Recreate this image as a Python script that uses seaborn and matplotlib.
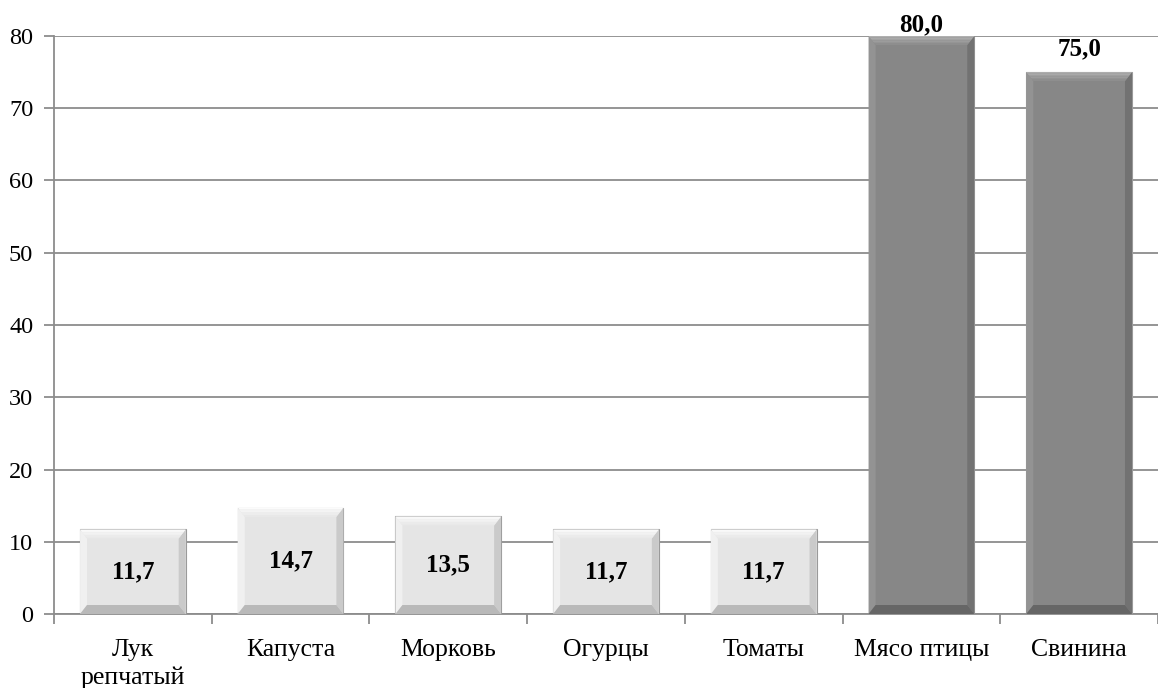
import matplotlib
matplotlib.use("Agg")
import matplotlib.pyplot as plt
from matplotlib.patches import Polygon
from matplotlib.ticker import FixedLocator
import seaborn as sns
import numpy as np

# Data
categories = ["Лук\nрепчатый", "Капуста", "Морковь", "Огурцы", "Томаты", "Мясо птицы", "Свинина"]
values = [11.7, 14.7, 13.5, 11.7, 11.7, 80.0, 75.0]
value_labels = ["11,7", "14,7", "13,5", "11,7", "11,7", "80,0", "75,0"]
is_meat = [False, False, False, False, False, True, True]

LIGHT = "#e5e5e5"
DARK = "#878787"
GRID = "#8c8c8c"

sns.set_theme(style="white")
plt.rcParams["font.family"] = ["Liberation Serif", "DejaVu Serif"]

fig = plt.figure(figsize=(11.58, 6.88), dpi=100)
ax = fig.add_axes([54 / 1158, (688 - 614) / 688, 1 - 54 / 1158, (614 - 36) / 688])

palette = [DARK if m else LIGHT for m in is_meat]
sns.barplot(x=list(range(len(categories))), y=values, hue=list(range(len(categories))),
            palette=palette, legend=False, width=0.67, ax=ax, zorder=3,
            edgecolor="#9a9a9a", linewidth=0.8)

ax.set_xlim(-0.5, len(categories) - 0.5)
ax.set_ylim(0, 80)
ax.set_yticks(np.arange(0, 81, 10))
ax.yaxis.grid(True, color=GRID, linewidth=1.3, zorder=0)
ax.set_axisbelow(True)

for side in ["top", "right"]:
    ax.spines[side].set_visible(False)
for side in ["left", "bottom"]:
    ax.spines[side].set_color(GRID)
    ax.spines[side].set_linewidth(1.3)

ax.set_xticks(range(len(categories)))
ax.set_xticklabels(categories, fontsize=18.5, linespacing=1.3, color="black")
ax.xaxis.set_minor_locator(FixedLocator(np.arange(-0.5, len(categories), 1.0)))
ax.tick_params(axis="x", which="major", length=0, pad=18)
ax.tick_params(axis="x", which="minor", length=7, width=1.3, color=GRID, direction="out", bottom=True)
ax.tick_params(axis="y", length=7, width=1.3, color=GRID, direction="out", left=True,
               labelsize=17.5, pad=8, labelcolor="black")
ax.set_xlabel("")
ax.set_ylabel("")

# Bevel shading on each bar
fig.canvas.draw()
to_px = ax.transData
inv = ax.transData.inverted()


def px_to_data(dx_px, dy_px):
    o = to_px.transform((0, 0))
    p = inv.transform((o[0] + dx_px, o[1] + dy_px))
    return p[0], p[1]


def shade(c1, c2, steps):
    a = np.array(matplotlib.colors.to_rgb(c1))
    b = np.array(matplotlib.colors.to_rgb(c2))
    return [tuple(a + (b - a) * k / max(steps - 1, 1)) for k in range(steps)]


bx, by = px_to_data(7, 9)
for patch, meat in zip(ax.patches, is_meat):
    x0, y0 = patch.get_x(), patch.get_y()
    x1, y1 = x0 + patch.get_width(), y0 + patch.get_height()
    if meat:
        top_c, left_c, right_c, bot_c = ("#b0b0b0", "#8e8e8e"), "#939393", "#727272", "#666666"
    else:
        top_c, left_c, right_c, bot_c = ("#fbfbfb", "#e9e9e9"), "#f0f0f0", "#cacaca", "#b9b9b9"
    faces = [
        ([(x0, y0), (x0, y1), (x0 + bx, y1 - by), (x0 + bx, y0 + by)], left_c),
        ([(x1, y0), (x1, y1), (x1 - bx, y1 - by), (x1 - bx, y0 + by)], right_c),
        ([(x0, y0), (x1, y0), (x1 - bx, y0 + by), (x0 + bx, y0 + by)], bot_c),
    ]
    for pts, c in faces:
        ax.add_patch(Polygon(pts, closed=True, facecolor=c, edgecolor="none", zorder=4))
    # top bevel drawn as stacked strips for a soft gradient
    n = 6
    cols = shade(top_c[0], top_c[1], n)
    for k in range(n):
        f0, f1 = k / n, (k + 1) / n
        pts = [(x0 + bx * f0, y1 - by * f0), (x1 - bx * f0, y1 - by * f0),
               (x1 - bx * f1, y1 - by * f1), (x0 + bx * f1, y1 - by * f1)]
        ax.add_patch(Polygon(pts, closed=True, facecolor=cols[k], edgecolor="none", zorder=4))

# Value labels: inside short bars, above tall bars
ymax = ax.get_ylim()[1]
for i, (v, lab, meat) in enumerate(zip(values, value_labels, is_meat)):
    if meat:
        y = min(v + 3.2, ymax + 1.5)
    else:
        y = v / 2
    ax.text(i, y, lab, ha="center", va="center", fontsize=18, fontweight="bold",
            color="black", zorder=6, clip_on=False)

fig.savefig("out.png", dpi=100)
